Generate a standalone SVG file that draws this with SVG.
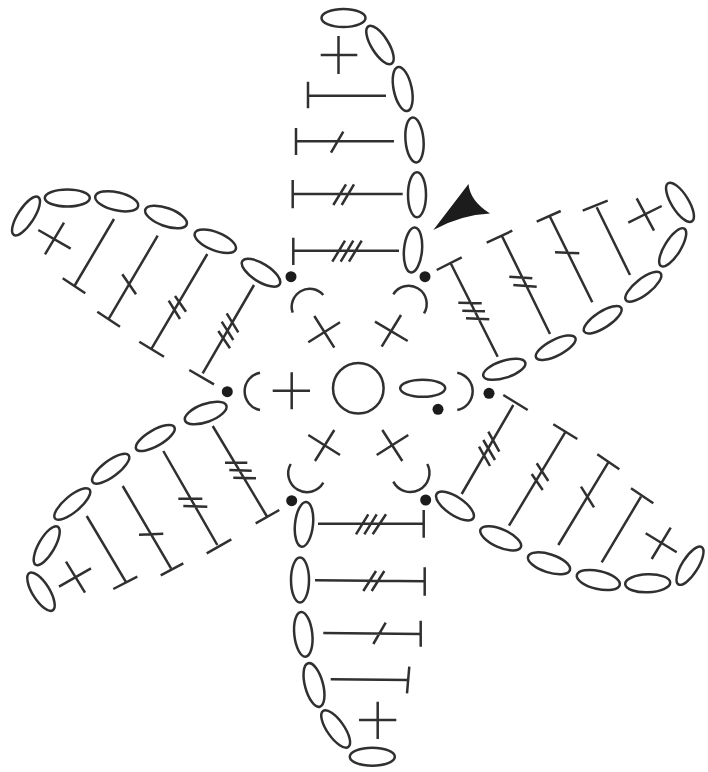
<svg xmlns="http://www.w3.org/2000/svg" width="708" height="772" viewBox="0 0 708 772">
<style>
.s{fill:none;stroke:#303030;stroke-width:2.5;stroke-linecap:butt}
.o{fill:none;stroke:#303030;stroke-width:2.5}
.d{fill:#1c1c1c;stroke:none}
</style>
<rect width="708" height="772" fill="#ffffff"/>
<g id="centre">
<circle class="o" cx="358.3" cy="388.3" r="25.3"/>
<ellipse class="o" cx="422.7" cy="388.3" rx="22.5" ry="8.5"/>
<path class="s" d="M272.7 390.7H310M291.7 372.3V409.3"/>
<path class="s" d="M308.3 342.3L340 322.3M314.3 316L334.3 347.7"/>
<path class="s" d="M375 321.7L407.7 341M401 315L381.7 346.7"/>
<path class="s" d="M308.3 435L340 455M334.3 430L315 461"/>
<path class="s" d="M408.3 435L376.7 455M382.3 430L402.3 461"/>
<path class="s" d="M292.7 312.7A18 18 0 0 1 323.3 295"/>
<path class="s" d="M393.3 294.3A18 18 0 0 1 424 313.3"/>
<path class="s" d="M260 372.7A19 19 0 0 0 260 410"/>
<path class="s" d="M457.3 372.7A19 19 0 0 1 457.3 410"/>
<path class="s" d="M290.7 464A18 18 0 0 0 323.3 482.7"/>
<path class="s" d="M427.3 464A18 18 0 0 1 393.3 481.7"/>
<circle class="d" cx="291" cy="276.7" r="5.5"/>
<circle class="d" cx="425" cy="276.7" r="5.5"/>
<circle class="d" cx="227.3" cy="391.7" r="5.5"/>
<circle class="d" cx="489" cy="393.3" r="5.5"/>
<circle class="d" cx="438" cy="409.3" r="5.5"/>
<circle class="d" cx="291.7" cy="500.7" r="5.5"/>
<circle class="d" cx="425.7" cy="500" r="5.5"/>
</g>
<g id="arrowhead">
<path fill="#1c1c1c" d="M433.3 230L468.5 184Q470 201 490 213.5Q460 215 433.3 230Z"/>
</g>
<g id="petal-top">
<ellipse class="o" cx="343.5" cy="18" rx="22" ry="9"/>
<ellipse class="o" transform="rotate(58 380 45)" cx="380" cy="45" rx="22" ry="8.5"/>
<ellipse class="o" transform="rotate(78 402.7 89)" cx="402.7" cy="89" rx="22.5" ry="9"/>
<ellipse class="o" transform="rotate(85 414.5 140)" cx="414.5" cy="140" rx="22.5" ry="9"/>
<ellipse class="o" transform="rotate(90 417 194.7)" cx="417" cy="194.7" rx="22.5" ry="9"/>
<ellipse class="o" transform="rotate(95 413 250)" cx="413" cy="250" rx="22.5" ry="9"/>
<path class="s" d="M320.7 55H357.3M338.5 36V74"/>
<path class="s" d="M308 81.7V108.3M308 95.7H386"/>
<path class="s" d="M296 128V155M296 141.3H394M331 152.7L343.3 131.7"/>
<path class="s" d="M292.7 180V208.3M292.7 194H402.7M333.3 205L346 184.3M341.7 205L354 184.3"/>
<path class="s" d="M293.3 237.7V265M293.3 250.7H399M332.3 261.7L345 240.7M340.7 261.7L353.3 240.7M349 261.7L361.7 240.7"/>
</g>
<g id="petal-upper-left">
<ellipse class="o" transform="rotate(-57 26 216)" cx="26" cy="216" rx="22.5" ry="8"/>
<ellipse class="o" cx="67.3" cy="198" rx="22.5" ry="8.5"/>
<ellipse class="o" transform="rotate(13 116.7 201.3)" cx="116.7" cy="201.3" rx="22" ry="9"/>
<ellipse class="o" transform="rotate(20 166 217)" cx="166" cy="217" rx="22" ry="9"/>
<ellipse class="o" transform="rotate(22 215.3 241.3)" cx="215.3" cy="241.3" rx="22" ry="9"/>
<ellipse class="o" transform="rotate(32 261 272.7)" cx="261" cy="272.7" rx="22" ry="9"/>
<path class="s" d="M38.3 230L70.7 248.7M45 254.3L64 222.7"/>
<path class="s" d="M114 219L75 285M62.7 278.3L85.3 293.3"/>
<path class="s" d="M157.7 235.7L109 318.3M97.3 311.7L120 326.7M122.3 274.3L136 294.3"/>
<path class="s" d="M207.3 254L151.7 348.3M139.3 341.7L164 356.7M168.7 300.7L180 319M175 296L186 311.7"/>
<path class="s" d="M254 285L202.7 373.3M189.3 370L214 384.3M226.7 313.3L238.3 332.3M221.7 321.7L233.3 340M218.3 331L230 348.3"/>
</g>
<g id="petal-lower-left">
<ellipse class="o" transform="rotate(58 41 591.7)" cx="41" cy="591.7" rx="22" ry="8.5"/>
<ellipse class="o" transform="rotate(-60 46.7 545.7)" cx="46.7" cy="545.7" rx="22" ry="8"/>
<ellipse class="o" transform="rotate(-40 72.3 504)" cx="72.3" cy="504" rx="22.5" ry="8"/>
<ellipse class="o" transform="rotate(-37 110.7 468.7)" cx="110.7" cy="468.7" rx="22.5" ry="8"/>
<ellipse class="o" transform="rotate(-30 155.3 438)" cx="155.3" cy="438" rx="22" ry="8"/>
<ellipse class="o" transform="rotate(-20 205.7 413)" cx="205.7" cy="413" rx="22" ry="9"/>
<path class="s" d="M59 586.7L91 568.3M66 561.7L85 592.7"/>
<path class="s" d="M86.7 516L125.7 581.7M113.3 589L137.3 576.7"/>
<path class="s" d="M122.7 486L171 568.3M160.7 575.3L183.3 563.3M139 534.7L163.3 533.7"/>
<path class="s" d="M163.3 451L217.3 545M206.7 553.3L231.3 539.3M178.3 498.7H202.3M183.3 506L207.3 506.7"/>
<path class="s" d="M212.7 426L266.7 516M255.7 523.3L279.3 510M225 462.7H247.3M229.3 470L251.7 470.7M233.3 477.7L256 478.3"/>
</g>
<g id="petal-upper-right">
<ellipse class="o" transform="rotate(58 680 202.3)" cx="680" cy="202.3" rx="22.5" ry="8.5"/>
<ellipse class="o" transform="rotate(-58 672.7 247.3)" cx="672.7" cy="247.3" rx="22" ry="8"/>
<ellipse class="o" transform="rotate(-38 643.3 286.7)" cx="643.3" cy="286.7" rx="22" ry="8"/>
<ellipse class="o" transform="rotate(-33 602.7 319.7)" cx="602.7" cy="319.7" rx="22" ry="8"/>
<ellipse class="o" transform="rotate(-27 555.7 347.7)" cx="555.7" cy="347.7" rx="22" ry="8"/>
<ellipse class="o" transform="rotate(-18 504.3 369.3)" cx="504.3" cy="369.3" rx="22" ry="8.5"/>
<path class="s" d="M628.3 222.7L661.7 206M636.7 198.3L654 230.7"/>
<path class="s" d="M630 275L596.7 207.3M582.7 210.7L607.7 200.7"/>
<path class="s" d="M592.3 302.3L550 216.7M536.7 221.7L560.7 211M555 252.3L579.3 253.3"/>
<path class="s" d="M550 334L502.3 236.7M486.7 242.7L512.3 230.7M509.3 276.7L532.3 278.3M513.3 285L536.7 286.7"/>
<path class="s" d="M497.7 356.7L450.7 263.3M436.7 270L461.7 257.3M458.3 302.7L481.7 303.3M462.3 310.7L485 311.3M466 318.3L489.3 319.3"/>
</g>
<g id="petal-lower-right">
<ellipse class="o" transform="rotate(34 455 506)" cx="455" cy="506" rx="22" ry="9"/>
<ellipse class="o" transform="rotate(24 500.7 538.3)" cx="500.7" cy="538.3" rx="22" ry="9"/>
<ellipse class="o" transform="rotate(18 549 563.3)" cx="549" cy="563.3" rx="22" ry="9"/>
<ellipse class="o" transform="rotate(13 598.3 580)" cx="598.3" cy="580" rx="22" ry="9"/>
<ellipse class="o" transform="rotate(-2 647.7 583.3)" cx="647.7" cy="583.3" rx="22.5" ry="9"/>
<ellipse class="o" transform="rotate(-58 690 565.7)" cx="690" cy="565.7" rx="22" ry="8"/>
<path class="s" d="M645.7 533.3L676.7 552.3M651.7 559L670.7 527.7"/>
<path class="s" d="M601.7 562.3L641 496.7M631 488.3L653.3 503.3"/>
<path class="s" d="M558.3 545L608.3 462.3M597.3 454.3L619.3 469.3M581 486.7L594 507.3"/>
<path class="s" d="M509 525.7L565 432.7M553.3 424.3L577.3 439M531.7 474L542.7 490M536.7 463.3L548.3 481"/>
<path class="s" d="M461.7 494L513.3 405M503.3 395L527.7 410M479 446.7L490 466M483.3 440L495 460M488.3 431.7L499.3 451.7"/>
</g>
<g id="petal-bottom">
<ellipse class="o" transform="rotate(96 304 524.3)" cx="304" cy="524.3" rx="22.5" ry="9"/>
<ellipse class="o" transform="rotate(90 300 580)" cx="300" cy="580" rx="22.5" ry="9"/>
<ellipse class="o" transform="rotate(84 303.3 634.3)" cx="303.3" cy="634.3" rx="22.5" ry="9"/>
<ellipse class="o" transform="rotate(75 314 685)" cx="314" cy="685" rx="22.5" ry="9"/>
<ellipse class="o" transform="rotate(55 335.7 729)" cx="335.7" cy="729" rx="22" ry="8.5"/>
<ellipse class="o" cx="372.3" cy="756.7" rx="22.5" ry="9"/>
<path class="s" d="M359 720H396.3M377.7 701.7V739"/>
<path class="s" d="M318 523.7H423.7M423.7 510V537.7M356 534.3L368.3 514.3M364.3 534.3L376.7 514.3M372.7 534.3L386 514.3"/>
<path class="s" d="M315 580.3L424.7 581.3M424.7 567.3V595.7M363.3 591L376 571M371.7 591L384.3 571"/>
<path class="s" d="M323.3 633L420.7 634M420.7 620.7V646.7M373.3 644L385.7 622.7"/>
<path class="s" d="M330.7 679.3L408 680M409.3 666.7L407 693.3"/>
</g>
</svg>
